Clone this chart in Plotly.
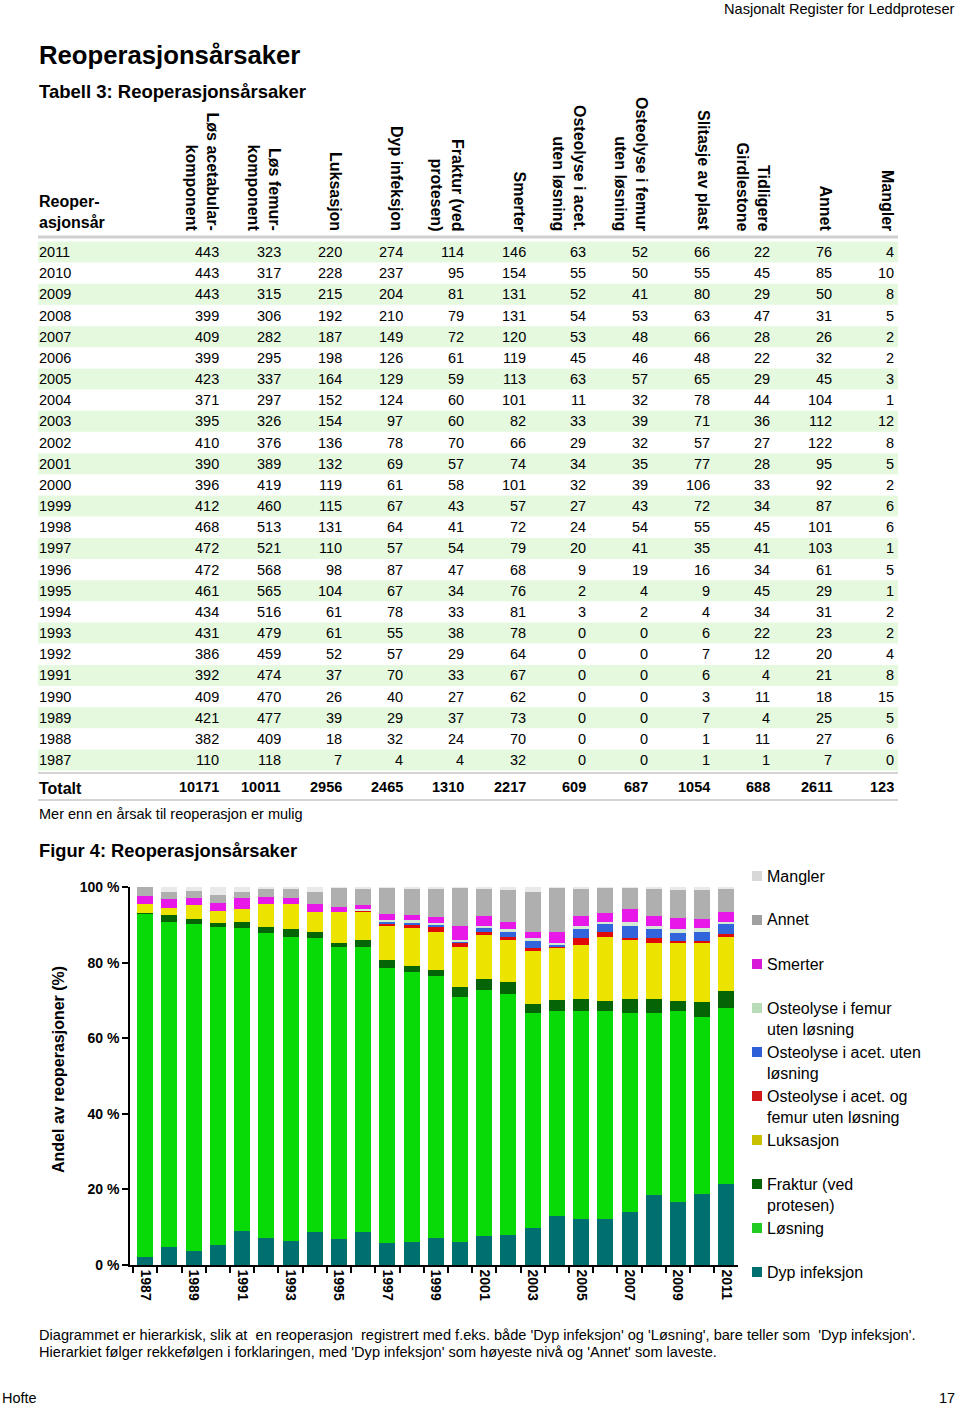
import plotly.graph_objects as go

W, H = 960, 1407
FONT = "Liberation Sans, Arial, sans-serif"


def px(x):
    return x / W


def py(y):
    return 1 - y / H


# ---------------- Table data (Tabell 3) ----------------
table_years = [2011, 2010, 2009, 2008, 2007, 2006, 2005, 2004, 2003, 2002, 2001, 2000,
               1999, 1998, 1997, 1996, 1995, 1994, 1993, 1992, 1991, 1990, 1989, 1988, 1987]
los_acetabular = [443, 443, 443, 399, 409, 399, 423, 371, 395, 410, 390, 396,
                  412, 468, 472, 472, 461, 434, 431, 386, 392, 409, 421, 382, 110]
los_femur = [323, 317, 315, 306, 282, 295, 337, 297, 326, 376, 389, 419,
             460, 513, 521, 568, 565, 516, 479, 459, 474, 470, 477, 409, 118]
luksasjon = [220, 228, 215, 192, 187, 198, 164, 152, 154, 136, 132, 119,
             115, 131, 110, 98, 104, 61, 61, 52, 37, 26, 39, 18, 7]
dyp_infeksjon = [274, 237, 204, 210, 149, 126, 129, 124, 97, 78, 69, 61,
                 67, 64, 57, 87, 67, 78, 55, 57, 70, 40, 29, 32, 4]
fraktur = [114, 95, 81, 79, 72, 61, 59, 60, 60, 70, 57, 58,
           43, 41, 54, 47, 34, 33, 38, 29, 33, 27, 37, 24, 4]
smerter = [146, 154, 131, 131, 120, 119, 113, 101, 82, 66, 74, 101,
           57, 72, 79, 68, 76, 81, 78, 64, 67, 62, 73, 70, 32]
osteolyse_acet = [63, 55, 52, 54, 53, 45, 63, 11, 33, 29, 34, 32,
                  27, 24, 20, 9, 2, 3, 0, 0, 0, 0, 0, 0, 0]
osteolyse_femur = [52, 50, 41, 53, 48, 46, 57, 32, 39, 32, 35, 39,
                   43, 54, 41, 19, 4, 2, 0, 0, 0, 0, 0, 0, 0]
slitasje = [66, 55, 80, 63, 66, 48, 65, 78, 71, 57, 77, 106,
            72, 55, 35, 16, 9, 4, 6, 7, 6, 3, 7, 1, 1]
girdlestone = [22, 45, 29, 47, 28, 22, 29, 44, 36, 27, 28, 33,
               34, 45, 41, 34, 45, 34, 22, 12, 4, 11, 4, 11, 1]
annet = [76, 85, 50, 31, 26, 32, 45, 104, 112, 122, 95, 92,
         87, 101, 103, 61, 29, 31, 23, 20, 21, 18, 25, 27, 7]
mangler = [4, 10, 8, 5, 2, 2, 3, 1, 12, 8, 5, 2,
           6, 6, 1, 5, 1, 2, 2, 4, 8, 15, 5, 6, 0]
totalt = [10171, 10011, 2956, 2465, 1310, 2217, 609, 687, 1054, 688, 2611, 123]

table_columns = [los_acetabular, los_femur, luksasjon, dyp_infeksjon, fraktur, smerter,
                 osteolyse_acet, osteolyse_femur, slitasje, girdlestone, annet, mangler]
table_headers = ["Løs acetabular-<br>komponent", "Løs femur-<br>komponent", "Luksasjon",
                 "Dyp infeksjon", "Fraktur (ved<br>protesen)", "Smerter",
                 "Osteolyse i acet.<br>uten løsning", "Osteolyse i femur<br>uten løsning",
                 "Slitasje av plast", "Tidligere<br>Girdlestone", "Annet", "Mangler"]

# ---------------- Figure data (Figur 4), hierarchical shares in % ----------------
chart_years = [1987, 1988, 1989, 1990, 1991, 1992, 1993, 1994, 1995, 1996, 1997, 1998, 1999,
               2000, 2001, 2002, 2003, 2004, 2005, 2006, 2007, 2008, 2009, 2010, 2011]
pct_dyp_infeksjon = [2.0, 4.7, 3.8, 5.4, 9.0, 7.2, 6.3, 8.6, 6.8, 8.6, 5.7, 6.1, 7.2,
                     6.1, 7.6, 7.9, 9.7, 13.0, 12.3, 12.2, 14.0, 18.4, 16.7, 18.9, 21.3]
pct_losning = [90.9, 86.1, 86.3, 84.1, 80.1, 80.7, 80.6, 77.8, 77.2, 75.5, 72.8, 71.3, 69.3,
               64.7, 65.1, 63.8, 56.9, 54.3, 55.0, 55.1, 52.8, 48.4, 50.5, 46.8, 46.6]
pct_fraktur = [0.3, 1.8, 1.4, 0.9, 1.7, 1.4, 2.0, 1.8, 1.2, 1.8, 2.2, 1.7, 1.5,
               2.8, 2.9, 3.3, 2.4, 2.8, 3.1, 2.6, 3.6, 3.6, 2.7, 4.0, 4.7]
pct_luksasjon = [2.3, 1.9, 3.7, 3.3, 3.3, 6.2, 6.6, 5.3, 8.1, 7.7, 9.1, 10.0, 10.2,
                 10.4, 11.6, 11.1, 14.2, 13.9, 14.2, 17.0, 15.6, 14.7, 15.2, 15.4, 14.3]
pct_ost_acet_femur = [0, 0, 0, 0, 0, 0, 0, 0, 0, 0.3, 0.6, 0.8, 1.1,
                      1.1, 0.9, 0.6, 0.6, 0.1, 1.8, 1.3, 0.4, 1.3, 0.7, 0.7, 0.7]
pct_ost_acet = [0, 0, 0, 0, 0, 0, 0, 0, 0, 0, 0.3, 0.7, 0.8,
                0.6, 1.2, 1.3, 2.1, 0.6, 2.4, 2.2, 3.3, 2.4, 2.1, 2.4, 2.5]
pct_ost_femur = [0, 0, 0, 0, 0, 0, 0, 0, 0, 0.2, 0.6, 0.7, 0.5,
                 0.4, 0.5, 0.8, 0.5, 0.4, 1.0, 0.4, 1.1, 1.0, 0.9, 0.9, 0.7]
pct_smerter = [2.2, 2.2, 1.8, 2.15, 2.9, 1.9, 1.5, 2.0, 1.5, 1.1, 1.5, 1.3, 1.4,
               3.7, 2.5, 2.0, 1.8, 3.1, 2.5, 2.2, 3.3, 2.5, 3.1, 2.4, 2.5]
pct_annet = [2.3, 2.1, 2.0, 2.05, 1.8, 2.0, 2.6, 3.3, 5.0, 4.3, 7.0, 6.8, 7.4,
             10.0, 7.2, 8.4, 10.6, 11.7, 7.4, 6.8, 5.7, 7.2, 7.3, 7.6, 6.3]
pct_mangler = [0, 1.2, 1.0, 2.1, 1.2, 0.6, 0.4, 1.2, 0.2, 0.5, 0.2, 0.6, 0.6,
               0.2, 0.5, 0.8, 1.2, 0.1, 0.3, 0.2, 0.2, 0.5, 0.8, 0.9, 0.4]

series_names = ["Dyp infeksjon", "Løsning", "Fraktur (ved<br>protesen)", "Luksasjon",
                "Osteolyse i acet. og<br>femur uten løsning", "Osteolyse i acet. uten<br>løsning",
                "Osteolyse i femur<br>uten løsning", "Smerter", "Annet", "Mangler"]
series_values = [pct_dyp_infeksjon, pct_losning, pct_fraktur, pct_luksasjon, pct_ost_acet_femur,
                 pct_ost_acet, pct_ost_femur, pct_smerter, pct_annet, pct_mangler]
series_colors = ["#006f6f", "#08da08", "#056405", "#ece400", "#e00a0a", "#3264dc",
                 "#d3ebd5", "#e818e8", "#afafaf", "#e9e9e9"]
legend_colors = ["#006f6f", "#22cc22", "#056405", "#c8c000", "#d01818", "#2f5fd8",
                 "#b8dcb8", "#d81ad8", "#a0a0a0", "#d8d8d8"]

fig = go.Figure()
for name, vals, col in zip(series_names, series_values, series_colors):
    fig.add_trace(go.Bar(x=chart_years, y=vals, name=name.replace("<br>", " "),
                         marker=dict(color=col, line=dict(width=0)), width=0.66,
                         showlegend=False, hoverinfo="skip"))

annotations = []
shapes = []


def txt(x, y, text, size=14, bold=False, xanchor="left", yanchor="middle", angle=0,
        align="left", color="#000000"):
    annotations.append(dict(x=px(x), y=py(y), xref="paper", yref="paper", text=text,
                            showarrow=False, xanchor=xanchor, yanchor=yanchor,
                            textangle=angle, align=align,
                            font=dict(family=FONT, size=size, color=color,
                                      weight="bold" if bold else "normal")))


# Page header / titles
txt(957, 9, "Nasjonalt Register for Leddproteser", size=14.6, xanchor="right")
txt(37, 55, "Reoperasjonsårsaker", size=25.7, bold=True)
txt(37, 91, "Tabell 3: Reoperasjonsårsaker", size=18.5, bold=True)

# Table layout
col_right = [221, 283, 344, 405, 466, 528, 588, 650, 712, 772, 834, 896]
row0, row_step = 252, 21.17

txt(37, 233, "Reoper-<br>asjonsår", size=16, bold=True, yanchor="bottom")
for re_x, head in zip(col_right, table_headers):
    txt(re_x + 2, 233, head, size=16, bold=True, xanchor="right", yanchor="bottom",
        angle=90, align="right")

shapes.append(dict(type="line", xref="paper", yref="paper", x0=px(38), x1=px(898),
                   y0=py(237), y1=py(237), line=dict(color="#cfcfcf", width=3)))

for i, yr in enumerate(table_years):
    yc = row0 + i * row_step
    if i % 2 == 0:
        shapes.append(dict(type="rect", xref="paper", yref="paper", x0=px(38), x1=px(898),
                           y0=py(yc - 10.5), y1=py(yc + 10.5), fillcolor="#e5f9df",
                           line=dict(width=0), layer="below"))
    txt(37, yc, str(yr), size=14.5)
    for re_x, col in zip(col_right, table_columns):
        txt(re_x, yc, str(col[i]), size=14.5, xanchor="right")

shapes.append(dict(type="line", xref="paper", yref="paper", x0=px(38), x1=px(898),
                   y0=py(773), y1=py(773), line=dict(color="#d4d4d4", width=2)))
txt(37, 788, "Totalt", size=16, bold=True)
for re_x, tot in zip(col_right, totalt):
    txt(re_x, 787, str(tot), size=14.5, bold=True, xanchor="right")
shapes.append(dict(type="line", xref="paper", yref="paper", x0=px(38), x1=px(898),
                   y0=py(800), y1=py(800), line=dict(color="#d4d4d4", width=2)))

txt(37, 814, "Mer enn en årsak til reoperasjon er mulig", size=14.5)
txt(37, 850, "Figur 4: Reoperasjonsårsaker", size=18.3, bold=True)

# Y axis title
txt(58, 1070, "Andel av reoperasjoner (%)", size=16, bold=True, xanchor="center",
    yanchor="middle", angle=-90)

# Legend (top entry first)
legend_y = [876, 920, 964, 1008, 1052, 1096, 1140, 1184, 1228, 1272]
for k, yl in enumerate(legend_y):
    idx = len(series_names) - 1 - k
    shapes.append(dict(type="rect", xref="paper", yref="paper", x0=px(752), x1=px(762),
                       y0=py(yl - 5), y1=py(yl + 5), fillcolor=legend_colors[idx],
                       line=dict(width=0)))
    txt(765, yl - 10.5, series_names[idx], size=16, yanchor="top")

# Footnotes
txt(37, 1335, "Diagrammet er hierarkisk, slik at  en reoperasjon  registrert med f.eks. både "
              "'Dyp infeksjon' og 'Løsning', bare teller som  'Dyp infeksjon'.", size=14.6)
txt(37, 1352, "Hierarkiet følger rekkefølgen i forklaringen, med 'Dyp infeksjon' som høyeste "
              "nivå og 'Annet' som laveste.", size=14.6)
txt(0, 1398, "Hofte", size=14.5)
txt(957, 1398, "17", size=14.5, xanchor="right")

tick_years = [1987, 1989, 1991, 1993, 1995, 1997, 1999, 2001, 2003, 2005, 2007, 2009, 2011]
boundaries = [y - 0.5 for y in chart_years] + [chart_years[-1] + 0.5]

fig.update_layout(
    width=W, height=H, autosize=False,
    margin=dict(l=0, r=0, t=0, b=0, pad=0, autoexpand=False),
    paper_bgcolor="white", plot_bgcolor="white",
    barmode="stack", bargap=0.34,
    showlegend=False,
    annotations=annotations, shapes=shapes,
    xaxis=dict(domain=[px(130), px(738)], range=[1986.37, 2011.48], automargin=False,
               tickvals=tick_years, ticktext=[str(t) for t in tick_years],
               tickangle=90, ticks="", showgrid=False, zeroline=False,
               showline=True, linecolor="black", linewidth=1.5,
               tickfont=dict(family=FONT, size=14, weight="bold", color="black"),
               minor=dict(tickvals=boundaries, ticks="outside", ticklen=6,
                          tickcolor="black", tickwidth=1.5, showgrid=False)),
    yaxis=dict(domain=[py(1265), py(887)], range=[0, 100], automargin=False,
               tickvals=[0, 20, 40, 60, 80, 100],
               ticktext=["0 %", "20 %", "40 %", "60 %", "80 %", "100 %"],
               ticks="outside", ticklen=6, tickwidth=1.5, tickcolor="black",
               showgrid=False, zeroline=False, showline=True, linecolor="black",
               linewidth=1.5,
               tickfont=dict(family=FONT, size=14, weight="bold", color="black")),
)

fig.write_html("out.html", config={"displayModeBar": False},
               post_script="document.body.style.margin='0';"
                           "document.body.style.overflow='hidden';")
